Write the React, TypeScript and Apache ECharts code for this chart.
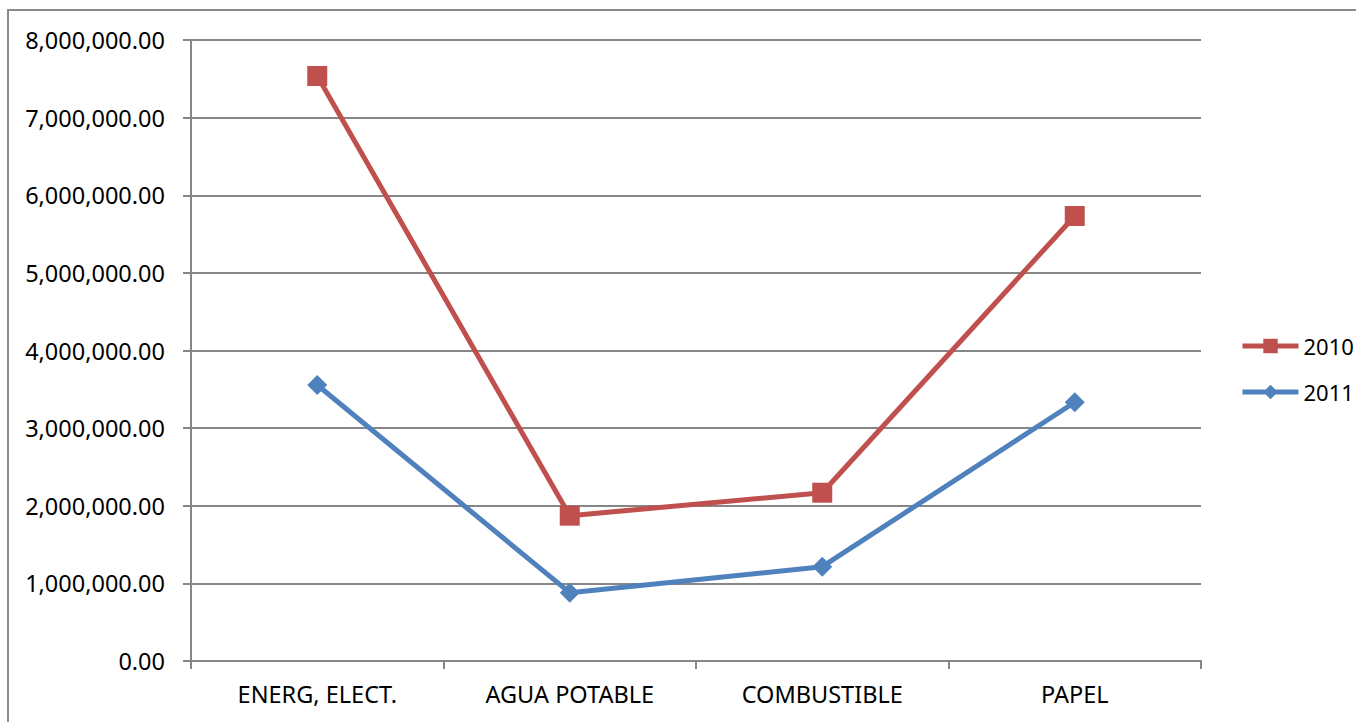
import React, { useEffect, useRef } from "react";
import * as echarts from "echarts";

const categories = ["ENERG, ELECT.", "AGUA POTABLE", "COMBUSTIBLE", "PAPEL"];
const values2010 = [7536000, 1872000, 2168000, 5733000];
const values2011 = [3556000, 880000, 1215000, 3333000];
const seriesNames = ["2010", "2011"];

const FONT = "Noto Sans";

export default function App() {
  const ref = useRef<HTMLDivElement>(null);
  useEffect(() => {
    if (!ref.current) return;
    const chart = echarts.init(ref.current, null, { renderer: "svg" });
    chart.setOption({
      animation: false,
      backgroundColor: "#ffffff",
      graphic: [
        {
          type: "rect",
          shape: { x: 8, y: 10, width: 1400, height: 800 },
          style: { fill: "none", stroke: "#8a8a8a", lineWidth: 2 },
          silent: true,
          z: -1,
        },
      ],
      grid: { left: 191, top: 40, right: 155, bottom: 61, containLabel: false },
      legend: {
        orient: "vertical",
        left: 1240,
        top: 335,
        padding: 0,
        itemWidth: 56,
        itemHeight: 18,
        itemGap: 24,
        lineStyle: { width: 5 },
        textStyle: { fontFamily: FONT, fontSize: 22, color: "#000" },
        data: seriesNames,
      },
      xAxis: {
        type: "category",
        data: categories,
        boundaryGap: true,
        axisLine: { lineStyle: { color: "#868686", width: 2 } },
        axisTick: { show: true, length: 8, lineStyle: { color: "#868686", width: 2 } },
        axisLabel: { fontFamily: FONT, fontSize: 23.5, color: "#000", margin: 21 },
        splitLine: { show: false },
      },
      yAxis: {
        type: "value",
        min: 0,
        max: 8000000,
        interval: 1000000,
        axisLine: { show: true, lineStyle: { color: "#868686", width: 2 } },
        axisTick: { show: true, length: 8, lineStyle: { color: "#868686", width: 2 } },
        axisLabel: {
          fontFamily: FONT,
          fontSize: 23.5,
          color: "#000",
          margin: 26,
          formatter: (v: number) =>
            v.toLocaleString("en-US", { minimumFractionDigits: 2, maximumFractionDigits: 2 }),
        },
        splitLine: { show: true, lineStyle: { color: "#868686", width: 2 } },
      },
      series: [
        {
          name: seriesNames[0],
          type: "line",
          data: values2010,
          symbol: "rect",
          symbolSize: 20,
          lineStyle: { color: "#C0504D", width: 5 },
          itemStyle: { color: "#C0504D" },
        },
        {
          name: seriesNames[1],
          type: "line",
          data: values2011,
          symbol: "diamond",
          symbolSize: 20,
          lineStyle: { color: "#4F81BD", width: 5 },
          itemStyle: { color: "#4F81BD" },
        },
      ],
    });
    return () => chart.dispose();
  }, []);
  return (
    <div
      ref={ref}
      style={{ position: "fixed", left: 0, top: 0, width: 1356, height: 722, background: "#fff" }}
    />
  );
}
